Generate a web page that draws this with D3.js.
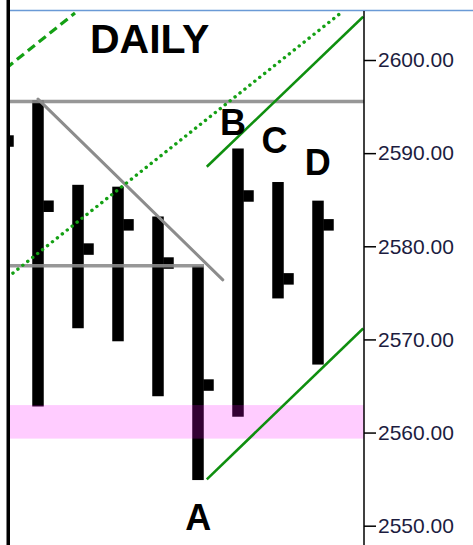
<!DOCTYPE html>
<html><head><meta charset="utf-8">
<script src="https://cdn.jsdelivr.net/npm/d3@7"></script>
<style>html,body{margin:0;padding:0;background:#fff;}svg{display:block;}</style>
</head><body>
<svg id="c" width="473" height="545"></svg>
<script>
// ---- data ----
const barIndex = [0, 1, 2, 3, 4, 5, 6, 7, 8];
const highs  = [2598.0, 2595.7, 2586.6, 2586.4, 2583.2, 2577.9, 2590.5, 2586.9, 2584.9];
const lows   = [2585.0, 2562.8, 2571.2, 2569.8, 2563.9, 2554.9, 2561.7, 2574.4, 2567.3];
const closes = [2591.3, 2584.3, 2579.7, 2582.3, 2578.2, 2565.1, 2585.4, 2576.5, 2582.3];
const tickValues = [2550, 2560, 2570, 2580, 2590, 2600];
const tickLabels = ["2550.00", "2560.00", "2570.00", "2580.00", "2590.00", "2600.00"];

const grayLevels = [{p: 2595.55, from: -1, to: 10}, {p: 2577.9, from: -1, to: 5.15}];
const grayDiagonal = [[1, 2595.8], [5.62, 2576.4]];
const zoneBand = [2559.35, 2562.95];
const greenLower = [[5.22, 2554.98], [9.13, 2571.18]];
const greenUpper = [[5.22, 2588.54], [9.13, 2604.65]];
const greenDotted = [[0.25, 2576.7], [8.6, 2605.15]];
const greenDashed = [[0.2, 2599.1], [1.925, 2605.05]];
const labelText = ["DAILY", "A", "B", "C", "D"];
const labelPos = [[2.3, 2600.75], [4.68, 2549.55], [5.55, 2591.95], [6.59, 2590.0], [7.67, 2587.65]];
const labelSize = [41, 36, 36, 36, 36];

// ---- scales ----
const plotLeft = 10, plotRight = 364, plotTop = 10, H = 545;
const x = d3.scaleLinear().domain([1, 8]).range([38, 318]);
const y = d3.scaleLinear().domain([2550, 2600]).range([525.7, 60]);

const svg = d3.select("#c");
svg.append("defs").append("clipPath").attr("id", "plot")
  .append("rect").attr("x", plotLeft).attr("y", plotTop)
  .attr("width", plotRight - plotLeft).attr("height", H - plotTop);

const g = svg.append("g").attr("clip-path", "url(#plot)");

// bars
const bw = 11.5, tl = 10, th = 11.5;
g.selectAll("rect.bar").data(barIndex).join("rect")
  .attr("class", "bar")
  .attr("x", i => x(i) - bw / 2)
  .attr("y", i => y(highs[i]))
  .attr("width", bw)
  .attr("height", i => y(lows[i]) - y(highs[i]))
  .attr("fill", "#000");
g.selectAll("rect.close").data(barIndex).join("rect")
  .attr("class", "close")
  .attr("x", i => x(i) + bw / 2 - 0.5)
  .attr("y", i => y(closes[i]) - th / 2)
  .attr("width", tl + 0.5)
  .attr("height", th)
  .attr("fill", "#000");

// pink zone
g.append("rect")
  .attr("x", plotLeft).attr("width", plotRight - plotLeft)
  .attr("y", y(zoneBand[1])).attr("height", y(zoneBand[0]) - y(zoneBand[1]))
  .attr("fill", "#ff00ff").attr("fill-opacity", 0.2);

// gray lines
const line = d3.line().x(d => x(d[0])).y(d => y(d[1]));
grayLevels.forEach(l => {
  g.append("path").attr("d", line([[l.from, l.p], [l.to, l.p]]))
    .attr("stroke", "#8c8c8c").attr("stroke-width", 3.5).attr("stroke-opacity", 0.9).attr("fill", "none");
});
g.append("path").attr("d", line(grayDiagonal))
  .attr("stroke", "#8c8c8c").attr("stroke-width", 3).attr("fill", "none").attr("stroke-linecap", "round");

// green lines
const green = "#0f8f0f";
[greenLower, greenUpper].forEach(l => {
  g.append("path").attr("d", line(l)).attr("stroke", green).attr("stroke-width", 2.6).attr("fill", "none");
});
g.append("path").attr("d", line(greenDotted)).attr("stroke", "#14a014").attr("stroke-width", 3.4)
  .attr("stroke-dasharray", "0.1 6.2").attr("stroke-linecap", "round").attr("fill", "none");
g.append("path").attr("d", line(greenDashed)).attr("stroke", "#14a014").attr("stroke-width", 3.2)
  .attr("stroke-dasharray", "9 5").attr("fill", "none");

// labels
svg.selectAll("text.lbl").data(labelText).join("text")
  .attr("class", "lbl")
  .attr("x", (d, i) => x(labelPos[i][0]))
  .attr("y", (d, i) => y(labelPos[i][1]))
  .attr("font-family", "Liberation Sans, Arial, sans-serif")
  .attr("font-weight", "bold")
  .attr("font-size", (d, i) => labelSize[i])
  .attr("fill", "#000")
  .text(d => d);

// frame
svg.append("line").attr("x1", 10).attr("x2", 473).attr("y1", 10.5).attr("y2", 10.5)
  .attr("stroke", "#6a9ad6").attr("stroke-width", 1.5);
svg.append("rect").attr("x", 6.5).attr("y", 0).attr("width", 3.5).attr("height", H).attr("fill", "#000");

// right axis
const axis = d3.axisRight(y).tickValues(tickValues)
  .tickFormat((d, i) => tickLabels[i]).tickSize(12).tickPadding(2);
const ax = svg.append("g").attr("transform", `translate(${plotRight},0)`).call(axis);
ax.select(".domain").remove();
ax.append("line").attr("x1", 0).attr("x2", 0).attr("y1", 11).attr("y2", H)
  .attr("stroke", "#000").attr("stroke-width", 1.5);
ax.selectAll(".tick line").attr("stroke", "#000").attr("stroke-width", 1.5);
ax.selectAll(".tick text").attr("font-family", "Liberation Sans, Arial, sans-serif")
  .attr("font-size", 21).attr("fill", "#1c1c40");
</script>
</body></html>
